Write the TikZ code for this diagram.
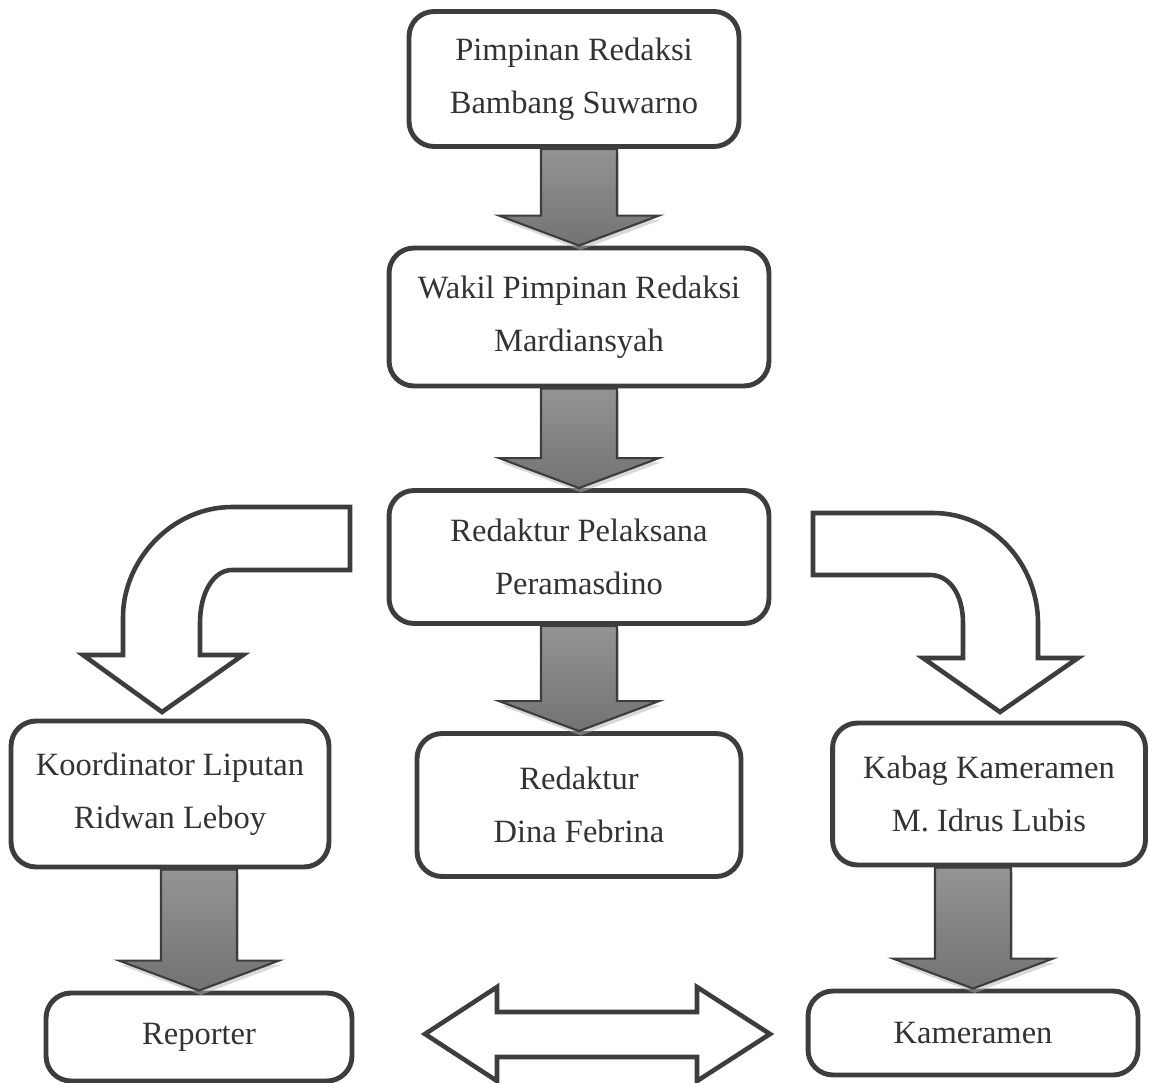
\documentclass[tikz,border=0pt]{standalone}
\usepackage{fontspec}
\setmainfont{Liberation Serif}
\usetikzlibrary{calc, shadows}
\definecolor{linegray}{HTML}{3D3D3D}
\definecolor{textgray}{HTML}{333333}
\tikzset{
  font=\fontsize{18.5}{30}\selectfont,
  % Staff box
  box/.style={draw=linegray, line width=2.8pt, rounded corners=0.5cm,
    fill=white, text=textgray, align=center, inner sep=0pt},
  % Shaded arrow between boxes
  flow/.style={draw=linegray, line width=1.2pt, top color=black!42,
    middle color=black!80, bottom color=black!55,
    drop shadow={shadow xshift=1pt, shadow yshift=-2.5pt, fill=black!30}},
  % Hollow arrow
  hollow/.style={draw=linegray, line width=2.6pt, fill=white},
}
% Shaded arrow from box #1 down to box #2
\newcommand{\flowarrow}[2]{%
  \coordinate (tip) at (#2.north);
  \coordinate (top) at (#1.south -| #2.north);
  \path[flow] ($(top)+(-38,0)$) -- ($(top)+(38,0)$) -- ($(tip)+(38,-30)$)
    -- ($(tip)+(80,-30)$) -- (tip) -- ($(tip)+(-80,-30)$)
    -- ($(tip)+(-38,-30)$) -- cycle;
}

\begin{document}
\begin{tikzpicture}[x=0.02cm, y=-0.02cm]
  \useasboundingbox (0,0) rectangle (1149,1082);

  \node[box, minimum width=6.6cm, minimum height=2.7cm] (pimpinan) at (574,79)
    {Pimpinan Redaksi\\Bambang Suwarno};
  \node[box, minimum width=7.6cm, minimum height=2.76cm] (wakil) at (579,317)
    {Wakil Pimpinan Redaksi\\Mardiansyah};
  \node[box, minimum width=7.6cm, minimum height=2.66cm] (pelaksana) at (579,557)
    {Redaktur Pelaksana\\Peramasdino};
  \node[box, minimum width=6.48cm, minimum height=2.86cm] (redaktur) at (579,805)
    {Redaktur\\Dina Febrina};
  \node[box, minimum width=6.36cm, minimum height=2.92cm] (koordinator) at (170,794)
    {Koordinator Liputan\\Ridwan Leboy};
  \node[box, minimum width=6.26cm, minimum height=2.84cm] (kabag) at (989,794)
    {Kabag Kameramen\\M. Idrus Lubis};
  \node[box, minimum width=6.12cm, minimum height=1.76cm] (reporter) at (199,1037)
    {Reporter};
  \node[box, minimum width=6.6cm, minimum height=1.68cm] (kameramen) at (973,1033)
    {Kameramen};

  \flowarrow{pimpinan}{wakil}
  \flowarrow{wakil}{pelaksana}
  \flowarrow{pelaksana}{redaktur}
  \flowarrow{koordinator}{reporter}
  \flowarrow{kabag}{kameramen}

  % bent arrows from the middle column
  \coordinate (ltip) at (162,712);
  \coordinate (rtip) at (1000,712);
  \draw[hollow] (350,507) -- (232,507) .. controls (172,507) and (123,560) .. (123,617)
    -- (123,655) -- (83,655) -- (ltip) -- (243,655) -- (200,655) -- (200,623)
    .. controls (200,592) and (214,570) .. (232,570) -- (350,570) -- cycle;
  \draw[hollow] (813,513) -- (933,513) .. controls (993,513) and (1038,565) .. (1038,623)
    -- (1038,658) -- (1078,658) -- (rtip) -- (923,658) -- (963,658) -- (963,623)
    .. controls (963,595) and (950,575) .. (930,575) -- (813,575) -- cycle;

  % two-way arrow
  \draw[hollow] (425,1034) -- (497,987) -- (497,1012) -- (697,1012) -- (697,987)
    -- (770,1034) -- (697,1081) -- (697,1057) -- (497,1057) -- (497,1081) -- cycle;
\end{tikzpicture}
\end{document}
